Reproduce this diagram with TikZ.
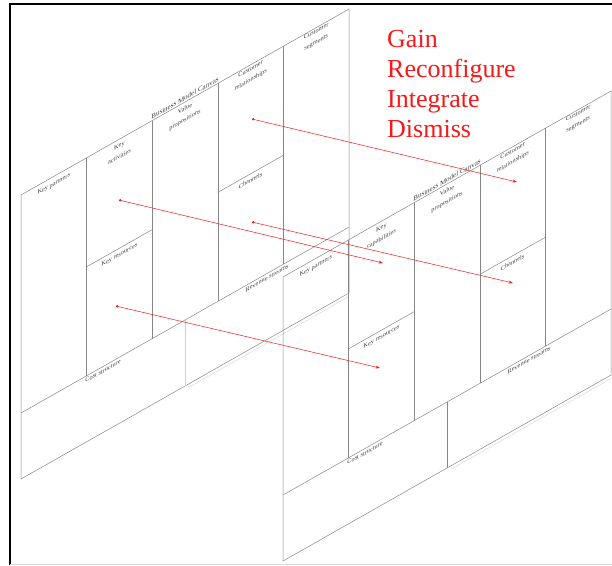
\documentclass[tikz,border=0pt]{standalone}
\usepackage{fontspec}
\setmainfont{Liberation Serif}
\usetikzlibrary{arrows.meta, positioning, calc}
\definecolor{flowred}{RGB}{245,25,25}
\definecolor{wire}{RGB}{135,135,135}

\tikzset{
  wire/.style={draw=wire, line width=0.5pt},
  ghost/.style={draw=black!12, line width=0.7pt},
  lbl/.style={font=\fontsize{6.3}{11}\selectfont, text=black!75, inner sep=0pt, align=center, anchor=north, transform shape},
  flow/.style={draw=flowred, line width=0.5pt, {Circle[length=2.4pt]}-{Stealth[length=4.5pt, width=3pt]}},
  iso/.style={yslant=0.567}
}

% one canvas in its own (slanted) plane: #1 prefix, #2 key column, #3 colour of cost/revenue split
\newcommand{\bmcanvas}[3]{%
  \draw[wire] (0,0) rectangle (328,284);
  \foreach \cx in {65.6,131.2,196.8,262.4}
    \draw[wire] (\cx,0) -- (\cx,218);
  \draw[wire] (0,218) -- (328,218);
  \draw[wire] (65.6,109) -- (131.2,109);
  \draw[wire] (196.8,109) -- (262.4,109);
  \draw[draw=#3, line width=0.5pt] (164,218) -- (164,284);
  \draw[ghost] (168,287.5) -- (328,287.5);
  % labels
  \node[lbl, anchor=south, font=\fontsize{7}{8}\selectfont] (#1-title) at (164,-1.5) {Business Model Canvas};
  \node[lbl] (#1-kp) at (32.8,5) {Key partners};
  \node[lbl] (#1-ka) at (98.4,4) {Key\\#2};
  \node[lbl] (#1-vp) at (164,4) {Value\\propositions};
  \node[lbl] (#1-cr) at (229.6,1.5) {Customer\\relationships};
  \node[lbl] (#1-cs) at (295.2,1) {Customer\\segments};
  \node[lbl] (#1-kr) at (98.4,113) {Key resources};
  \node[lbl] (#1-ch) at (229.6,113) {Channels};
  \node[lbl] (#1-cost) at (82,220) {Cost structure};
  \node[lbl] (#1-rev) at (246,220) {Revenue streams};
}

\begin{document}
\begin{tikzpicture}[x=1pt, y=-1pt]
  \useasboundingbox (0,0) rectangle (612,565);
  % frame of the scan
  \draw[line width=2pt] (10,565) -- (10,4) -- (612,4);
  \draw[black!15] (10,564) -- (612,564);

  % current canvas (back)
  \begin{scope}[shift={(21,195)}, iso]
    \bmcanvas{old}{activities}{black!18}
    \coordinate (old-a) at (231,55);
    \coordinate (old-b) at (98,60.6);
    \coordinate (old-c) at (231,158);
    \coordinate (old-d) at (95,164.9);
  \end{scope}

  % new canvas (front)
  \begin{scope}[shift={(283,277)}, iso]
    \bmcanvas{new}{capabilities}{wire}
    \coordinate (new-a) at (234,37.7);
    \coordinate (new-b) at (100,42.7);
    \coordinate (new-c) at (230,136.4);
    \coordinate (new-d) at (97,146);
  \end{scope}

  % actions
  \node[anchor=north west, align=left, inner sep=0pt, text=flowred,
        font=\fontsize{26}{30}\selectfont] (actions) at (387,30)
        {Gain\\Reconfigure\\Integrate\\Dismiss};

  \draw[flow] (old-a) -- (new-a);
  \draw[flow] (old-b) -- (new-b);
  \draw[flow] (old-c) -- (new-c);
  \draw[flow] (old-d) -- (new-d);
\end{tikzpicture}
\end{document}
